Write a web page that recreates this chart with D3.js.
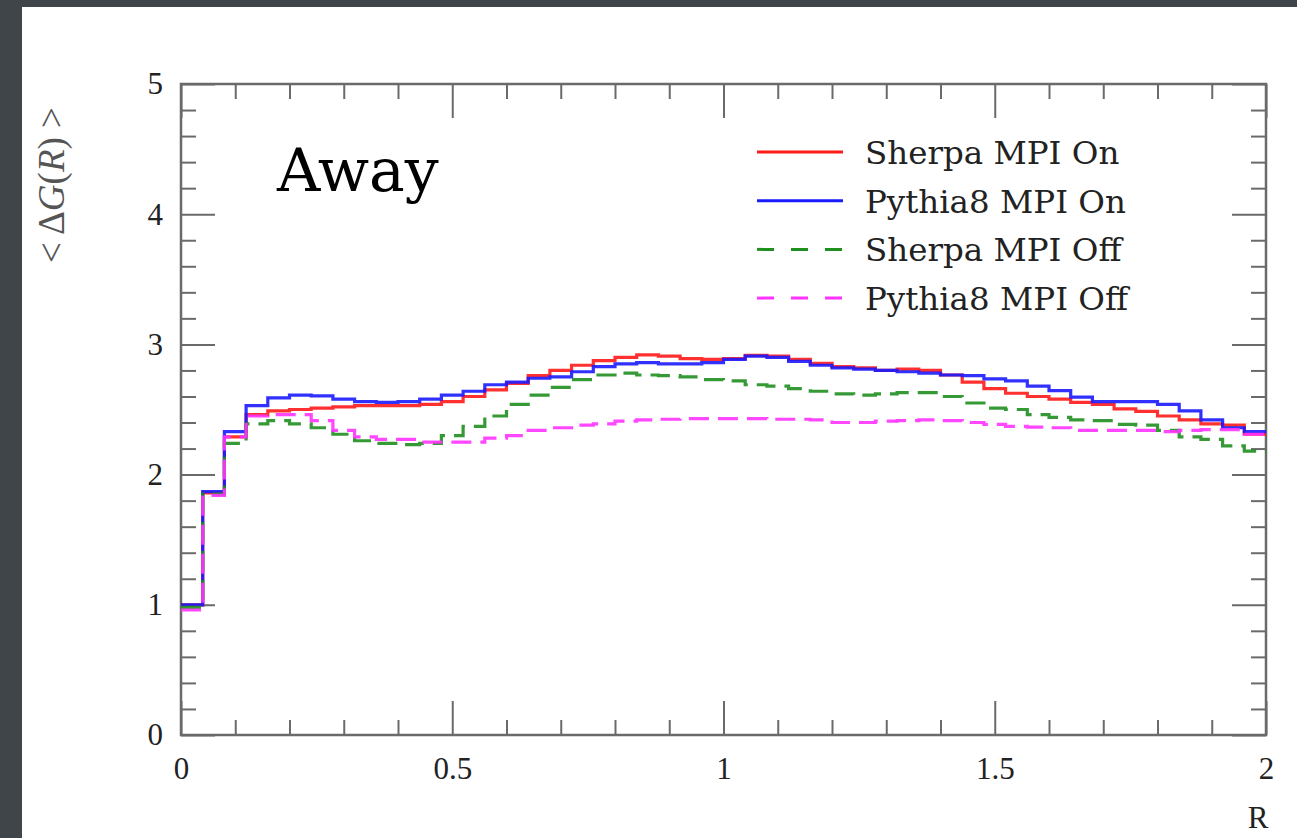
<!DOCTYPE html>
<html>
<head>
<meta charset="utf-8">
<script src="https://cdn.jsdelivr.net/npm/d3@7"></script>
<style>
  html, body { margin: 0; padding: 0; background: #3f4549; }
  svg { display: block; }
</style>
</head>
<body>
<svg id="chart" width="1297" height="838"></svg>
<script>
// ---------------- data ----------------
const binWidth = 0.04;
const seriesNames = ["Sherpa MPI On", "Pythia8 MPI On", "Sherpa MPI Off", "Pythia8 MPI Off"];
const sherpaOn = [1.00, 1.86, 2.29, 2.46, 2.49, 2.50, 2.51, 2.52, 2.53, 2.53,
                  2.53, 2.54, 2.56, 2.60, 2.65, 2.70, 2.76, 2.80, 2.84, 2.875,
                  2.90, 2.92, 2.91, 2.89, 2.885, 2.89, 2.915, 2.91, 2.885, 2.855,
                  2.83, 2.82, 2.80, 2.81, 2.80, 2.765, 2.71, 2.66, 2.625, 2.60,
                  2.58, 2.555, 2.54, 2.505, 2.485, 2.45, 2.42, 2.39, 2.38, 2.31];
const pythiaOn = [1.00, 1.87, 2.33, 2.53, 2.59, 2.61, 2.605, 2.58, 2.56, 2.555,
                  2.56, 2.58, 2.61, 2.64, 2.69, 2.71, 2.74, 2.75, 2.79, 2.83,
                  2.85, 2.86, 2.85, 2.85, 2.86, 2.885, 2.91, 2.90, 2.87, 2.84,
                  2.82, 2.81, 2.80, 2.79, 2.78, 2.765, 2.76, 2.735, 2.72, 2.68,
                  2.645, 2.595, 2.56, 2.56, 2.56, 2.54, 2.49, 2.42, 2.36, 2.33];
const sherpaOff = [0.98, 1.85, 2.24, 2.39, 2.415, 2.39, 2.36, 2.31, 2.26, 2.24,
                   2.23, 2.24, 2.30, 2.37, 2.45, 2.54, 2.61, 2.67, 2.73, 2.765,
                   2.78, 2.765, 2.76, 2.75, 2.73, 2.72, 2.69, 2.68, 2.66, 2.64,
                   2.62, 2.61, 2.62, 2.63, 2.63, 2.60, 2.55, 2.51, 2.50, 2.46,
                   2.44, 2.42, 2.415, 2.385, 2.38, 2.34, 2.29, 2.27, 2.22, 2.18];
const pythiaOff = [0.96, 1.84, 2.29, 2.45, 2.46, 2.46, 2.415, 2.34, 2.29, 2.27,
                   2.27, 2.25, 2.25, 2.25, 2.28, 2.30, 2.34, 2.36, 2.38, 2.39,
                   2.41, 2.42, 2.425, 2.43, 2.43, 2.43, 2.43, 2.425, 2.425, 2.42,
                   2.40, 2.40, 2.41, 2.415, 2.42, 2.415, 2.40, 2.385, 2.37, 2.365,
                   2.36, 2.34, 2.34, 2.34, 2.34, 2.33, 2.34, 2.345, 2.345, 2.31];
const xMajorTicks = [0, 0.5, 1, 1.5, 2];
const xTickLabels = ["0", "0.5", "1", "1.5", "2"];
const yMajorTicks = [0, 1, 2, 3, 4, 5];
const yTickLabels = ["0", "1", "2", "3", "4", "5"];
const panelLabel = "Away";
const xTitle = "R";

// ---------------- layout ----------------
const svg = d3.select("#chart");
const W = 1297, H = 838;
const plot = { left: 181, right: 1266, top: 84, bottom: 735 };

svg.append("rect").attr("x", 0).attr("y", 0).attr("width", W).attr("height", H).attr("fill", "#3f4549");
svg.append("rect").attr("x", 22).attr("y", 7).attr("width", W - 22).attr("height", H - 7).attr("fill", "#ffffff");

const x = d3.scaleLinear().domain([0, 2]).range([plot.left, plot.right]);
const y = d3.scaleLinear().domain([0, 5]).range([plot.bottom, plot.top]);

const axisColor = "#6a6a6a";
const serif = "'Liberation Serif', 'Times New Roman', serif";

function styleAxis(g) {
  g.select(".domain").remove();
  g.selectAll(".tick line").attr("stroke", axisColor).attr("stroke-width", 2);
  g.selectAll(".tick text").attr("fill", "#222").style("font-family", serif).style("font-size", "31px");
}

const xMinor = d3.range(0, 2.0001, 0.1).filter(v => Math.abs(v * 2 - Math.round(v * 2)) > 1e-6);
const yMinor = d3.range(0, 5.0001, 0.2).filter(v => Math.abs(v - Math.round(v)) > 1e-6);

const MAJ = 34, MIN = 15;

// bottom
svg.append("g").attr("transform", `translate(0,${plot.bottom})`)
  .call(d3.axisBottom(x).tickValues(xMajorTicks).tickSize(-MAJ).tickPadding(22)
    .tickFormat((d, i) => xTickLabels[i]))
  .call(styleAxis)
  .selectAll(".tick text").attr("y", 22);
svg.append("g").attr("transform", `translate(0,${plot.bottom})`)
  .call(d3.axisBottom(x).tickValues(xMinor).tickSize(-MIN).tickFormat(""))
  .call(styleAxis);
// top
svg.append("g").attr("transform", `translate(0,${plot.top})`)
  .call(d3.axisTop(x).tickValues(xMajorTicks).tickSize(-MAJ).tickFormat(""))
  .call(styleAxis);
svg.append("g").attr("transform", `translate(0,${plot.top})`)
  .call(d3.axisTop(x).tickValues(xMinor).tickSize(-MIN).tickFormat(""))
  .call(styleAxis);
// left
svg.append("g").attr("transform", `translate(${plot.left},0)`)
  .call(d3.axisLeft(y).tickValues(yMajorTicks).tickSize(-MAJ).tickPadding(18)
    .tickFormat((d, i) => yTickLabels[i]))
  .call(styleAxis)
  .selectAll(".tick text").attr("x", -18);
svg.append("g").attr("transform", `translate(${plot.left},0)`)
  .call(d3.axisLeft(y).tickValues(yMinor).tickSize(-MIN).tickFormat(""))
  .call(styleAxis);
// right
svg.append("g").attr("transform", `translate(${plot.right},0)`)
  .call(d3.axisRight(y).tickValues(yMajorTicks).tickSize(-MAJ).tickFormat(""))
  .call(styleAxis);
svg.append("g").attr("transform", `translate(${plot.right},0)`)
  .call(d3.axisRight(y).tickValues(yMinor).tickSize(-MIN).tickFormat(""))
  .call(styleAxis);

// frame
svg.append("rect")
  .attr("x", plot.left).attr("y", plot.top)
  .attr("width", plot.right - plot.left).attr("height", plot.bottom - plot.top)
  .attr("fill", "none").attr("stroke", axisColor).attr("stroke-width", 2.5);

// ---------------- series ----------------
const series = [
  { name: seriesNames[0], values: sherpaOn,  color: "#ff1a1a", dash: null },
  { name: seriesNames[1], values: pythiaOn,  color: "#1a1aff", dash: null },
  { name: seriesNames[2], values: sherpaOff, color: "#1f8f1f", dash: "20,9" },
  { name: seriesNames[3], values: pythiaOff, color: "#ff33ff", dash: "20,9" }
];

const line = d3.line().x(d => x(d[0])).y(d => y(d[1])).curve(d3.curveStepAfter);

series.forEach(s => {
  const pts = s.values.map((v, i) => [i * binWidth, v]);
  pts.push([s.values.length * binWidth, s.values[s.values.length - 1]]);
  svg.append("path")
    .attr("d", line(pts))
    .attr("fill", "none")
    .attr("stroke", s.color)
    .attr("stroke-width", 3.2)
    .attr("stroke-dasharray", s.dash)
    .attr("opacity", 0.9);
});

// ---------------- legend ----------------
const legend = svg.append("g");
series.forEach((s, i) => {
  const ly = 152 + i * 48.7;
  legend.append("line")
    .attr("x1", 757).attr("x2", 843).attr("y1", ly).attr("y2", ly)
    .attr("stroke", s.color).attr("stroke-width", 3)
    .attr("stroke-dasharray", s.dash ? "17,17" : null);
  legend.append("text")
    .attr("x", 865).attr("y", ly + 12)
    .attr("fill", "#222")
    .style("font-family", "'DejaVu Serif', serif")
    .style("font-size", "32.5px")
    .text(s.name);
});

// ---------------- labels ----------------
svg.append("text")
  .attr("x", 277).attr("y", 191)
  .attr("fill", "#000")
  .style("font-family", "'DejaVu Serif', serif")
  .style("font-size", "60px")
  .text(panelLabel);

svg.append("text")
  .attr("x", 1258).attr("y", 828)
  .attr("text-anchor", "middle")
  .attr("fill", "#222")
  .style("font-family", serif)
  .style("font-size", "31px")
  .text(xTitle);

const yt = svg.append("text")
  .attr("transform", "translate(64,185) rotate(-90)")
  .attr("text-anchor", "middle")
  .attr("fill", "#555")
  .style("font-family", serif)
  .style("font-size", "37px");
yt.append("tspan").text("< Δ");
yt.append("tspan").style("font-style", "italic").text("G");
yt.append("tspan").text("(");
yt.append("tspan").style("font-style", "italic").text("R");
yt.append("tspan").text(") >");
</script>
</body>
</html>
